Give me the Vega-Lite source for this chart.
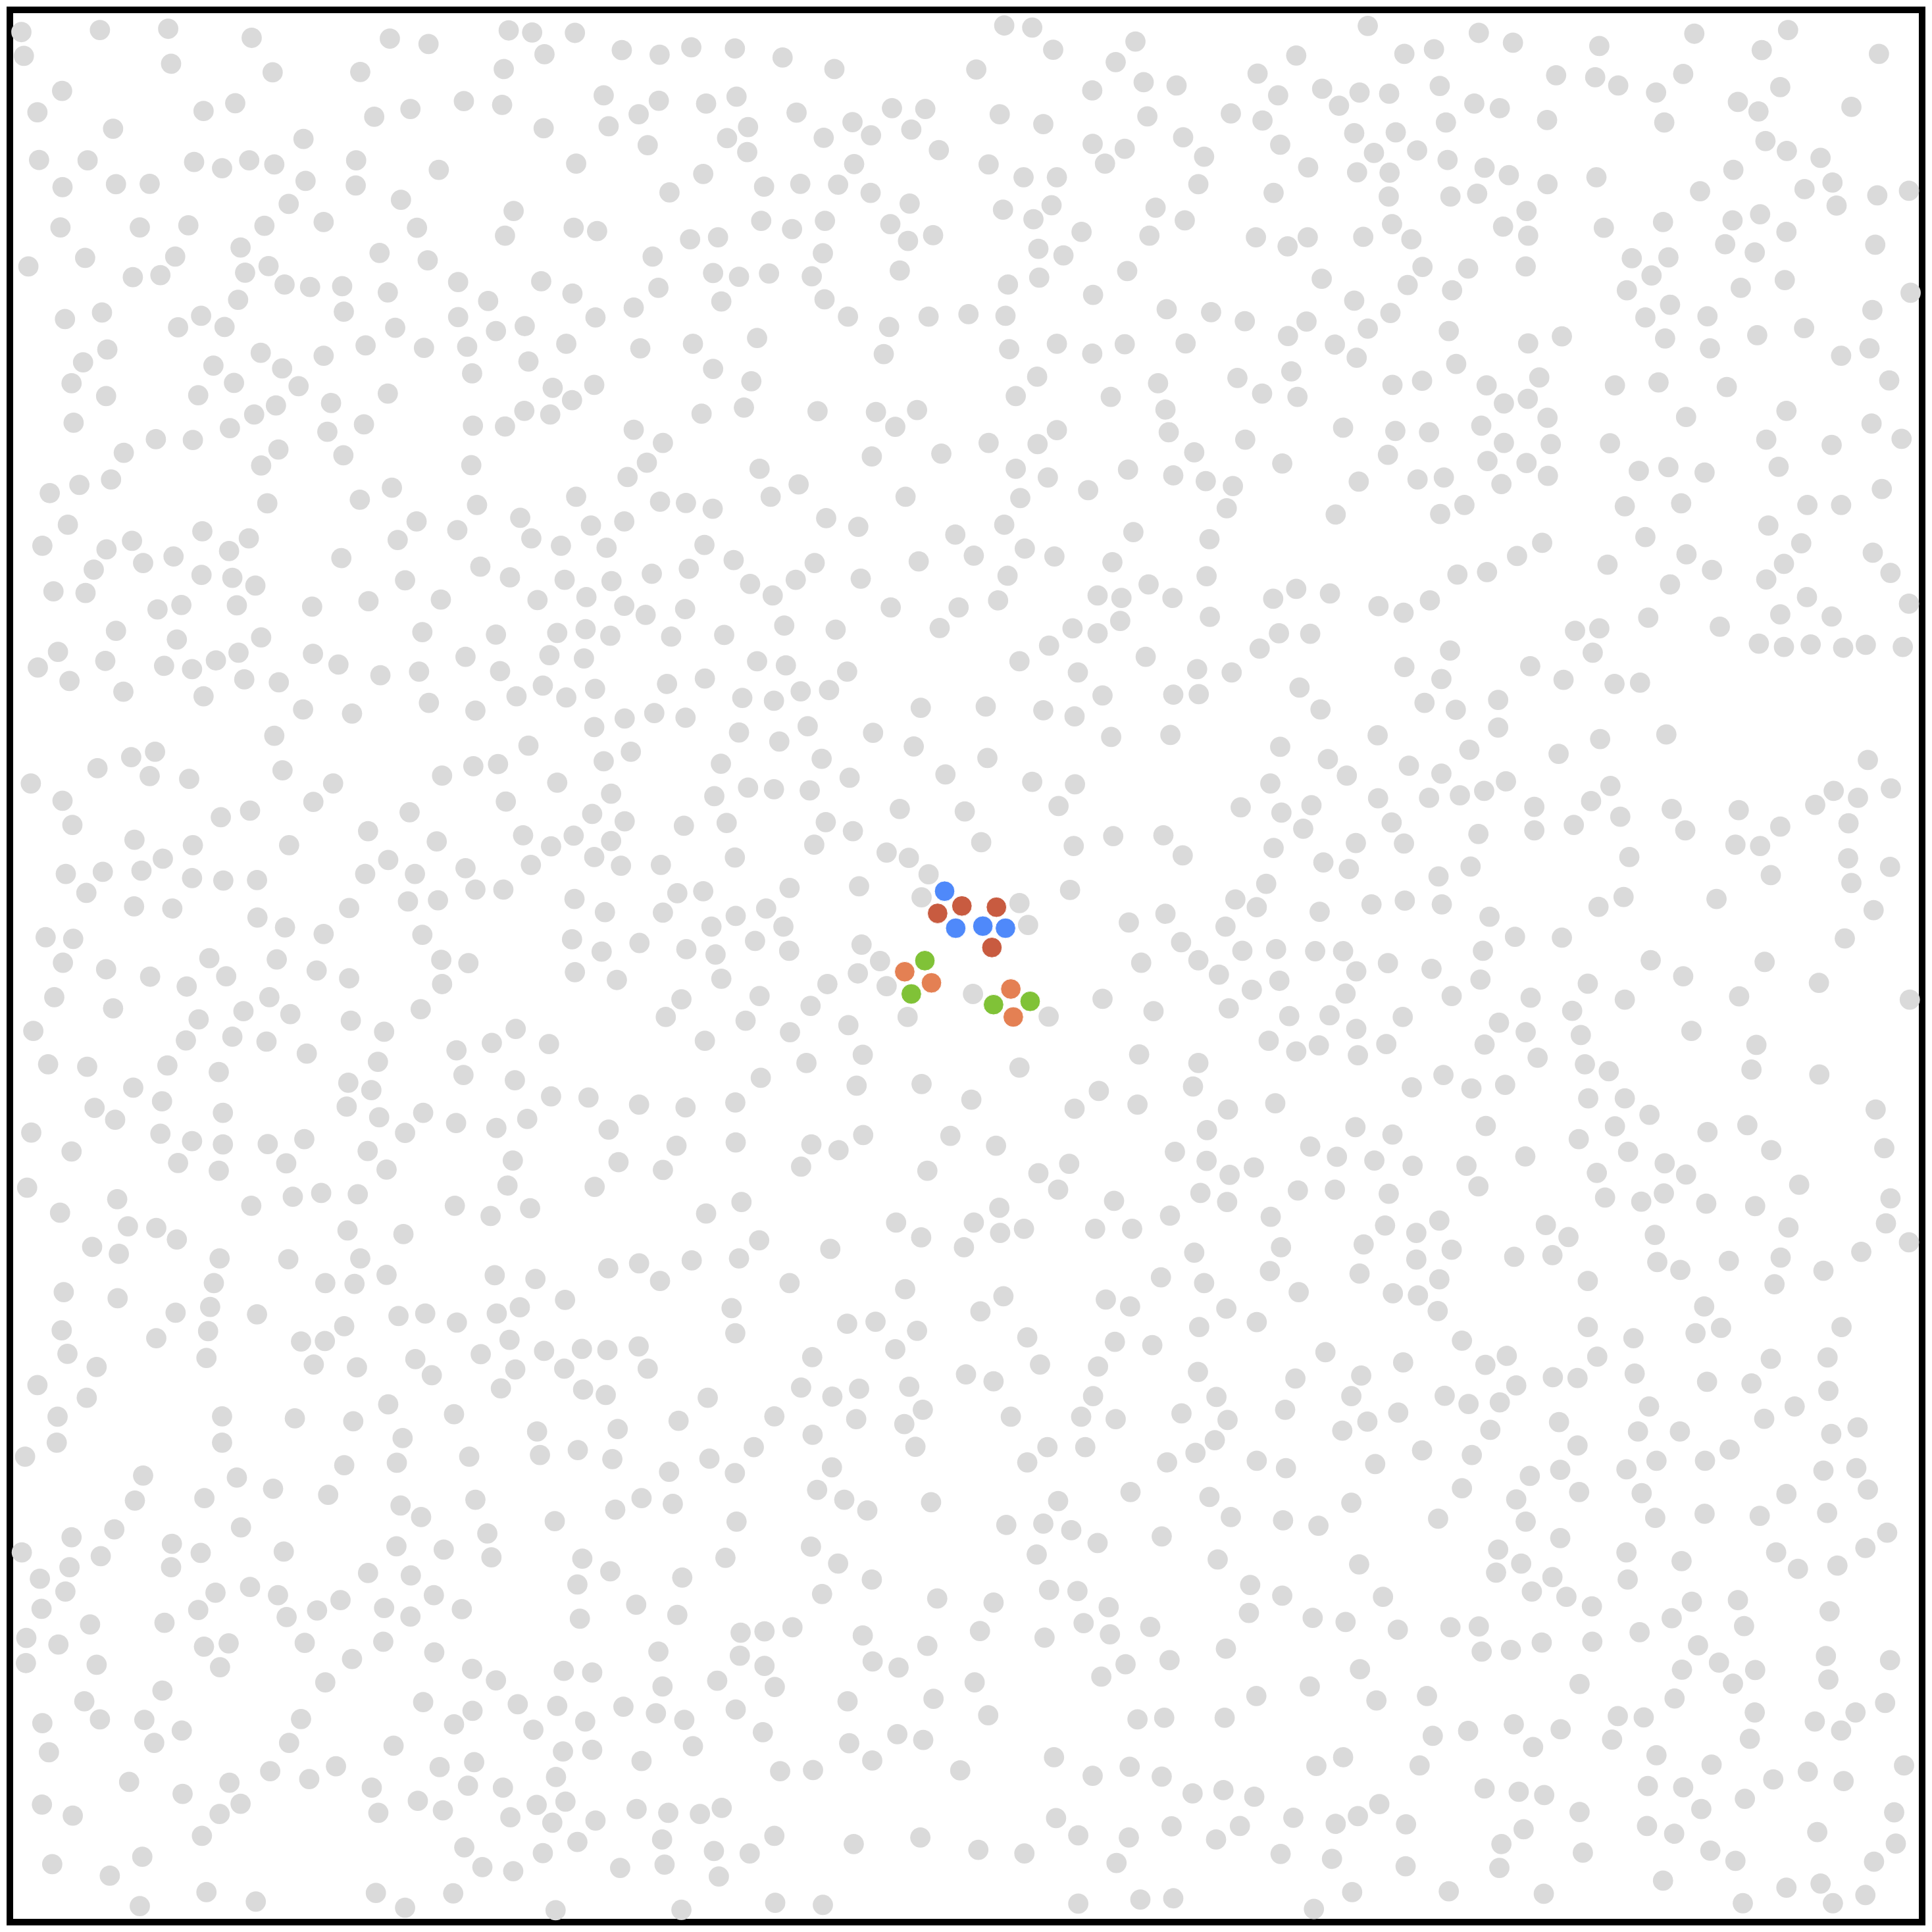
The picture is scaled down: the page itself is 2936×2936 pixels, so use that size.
{
"$schema": "https://vega.github.io/schema/vega-lite/v6.json",
"width": 2906, "height": 2906, "padding": 15, "autosize": "none",
"background": "white",
"view": {"stroke": "black", "strokeWidth": 10, "fill": "white"},
"datasets": {
"gray": [
{"x":52,"y":78},{"x":243,"y":73},{"x":409,"y":70},{"x":612,"y":92},{"x":948,"y":94},{"x":1042,"y":107},{"x":1237,"y":74},{"x":1294,"y":79},{"x":1398,"y":80},{"x":1512,"y":122},{"x":58,"y":136},{"x":416,"y":155},{"x":663,"y":176},{"x":876,"y":175},{"x":1225,"y":168},{"x":1324,"y":132},
{"x":151,"y":221},{"x":91,"y":273},{"x":275,"y":313},{"x":495,"y":270},{"x":572,"y":251},{"x":910,"y":284},{"x":998,"y":265},{"x":1128,"y":246},{"x":1221,"y":255},{"x":1468,"y":232},{"x":1480,"y":307},{"x":1553,"y":278},{"x":1322,"y":312},{"x":738,"y":338},
{"x":95,"y":389},{"x":213,"y":390},{"x":472,"y":394},{"x":540,"y":409},{"x":606,"y":390},{"x":667,"y":400},{"x":866,"y":390},{"x":152,"y":455},{"x":282,"y":448},{"x":364,"y":447},{"x":743,"y":440},{"x":865,"y":451},{"x":1067,"y":413},{"x":1401,"y":398},
{"x":702,"y":496},{"x":975,"y":486},{"x":1249,"y":513},{"x":147,"y":553},{"x":340,"y":553},{"x":458,"y":548},{"x":643,"y":549},{"x":787,"y":540},{"x":1014,"y":554},{"x":1228,"y":573},{"x":1395,"y":554},{"x":1452,"y":562},
{"x":69,"y":648},{"x":207,"y":627},{"x":426,"y":624},{"x":585,"y":602},{"x":596,"y":663},{"x":653,"y":647},{"x":923,"y":615},{"x":1040,"y":633},{"x":323,"y":674},{"x":390,"y":669},{"x":692,"y":692},{"x":754,"y":698},{"x":832,"y":696},{"x":943,"y":711},{"x":1114,"y":686},{"x":1316,"y":684},{"x":1392,"y":714},{"x":579,"y":729},
{"x":158,"y":776},{"x":248,"y":760},{"x":433,"y":796},{"x":489,"y":768},{"x":546,"y":795},{"x":836,"y":758},{"x":1114,"y":771},{"x":1187,"y":732},{"x":1206,"y":805},{"x":1276,"y":793},{"x":1448,"y":772},{"x":1541,"y":748},{"x":961,"y":797},{"x":202,"y":881},{"x":261,"y":850},{"x":634,"y":858},{"x":519,"y":889},{"x":686,"y":896},{"x":787,"y":865},{"x":889,"y":840},{"x":1031,"y":846},{"x":1136,"y":843},{"x":1285,"y":879},{"x":1377,"y":836},{"x":1557,"y":847},
{"x":174,"y":932},{"x":258,"y":963},{"x":482,"y":961},{"x":569,"y":931},{"x":726,"y":939},{"x":805,"y":980},{"x":943,"y":957},{"x":1148,"y":908},{"x":1344,"y":943},{"x":1391,"y":973},{"x":1445,"y":936},{"x":179,"y":1028},{"x":618,"y":1008},{"x":671,"y":986},{"x":559,"y":1041},{"x":796,"y":1050},{"x":885,"y":1032},{"x":1150,"y":1035},{"x":1228,"y":1037},{"x":1275,"y":999},{"x":1338,"y":1008},{"x":1541,"y":1045},
{"x":301,"y":1101},{"x":379,"y":1068},{"x":469,"y":1070},{"x":677,"y":1093},{"x":635,"y":1132},{"x":835,"y":1107},{"x":1146,"y":1131},{"x":1526,"y":1160},{"x":121,"y":1199},{"x":193,"y":1179},{"x":270,"y":1166},{"x":953,"y":1186},{"x":875,"y":1215},{"x":1401,"y":1208},{"x":650,"y":1224},{"x":1160,"y":1228},
{"x":165,"y":1276},{"x":103,"y":1327},{"x":259,"y":1336},{"x":321,"y":1315},{"x":492,"y":1292},{"x":557,"y":1340},{"x":605,"y":1309},{"x":1013,"y":1268},{"x":1112,"y":1289},{"x":967,"y":1313},{"x":1265,"y":1259},{"x":1292,"y":1309},{"x":1364,"y":1327},{"x":1437,"y":1278},{"x":1475,"y":1332},{"x":1518,"y":1268},{"x":830,"y":1357},
{"x":228,"y":1385},{"x":348,"y":1369},{"x":422,"y":1353},{"x":490,"y":1398},{"x":565,"y":1405},{"x":621,"y":1424},{"x":1168,"y":1378},{"x":1240,"y":1404},{"x":1373,"y":1410},{"x":1487,"y":1413},{"x":985,"y":1411},{"x":130,"y":1438},{"x":208,"y":1442},{"x":383,"y":1482},{"x":441,"y":1471},{"x":576,"y":1472},{"x":759,"y":1475},{"x":896,"y":1462},{"x":1072,"y":1458},{"x":1307,"y":1459},{"x":1426,"y":1452},{"x":1518,"y":1473},
{"x":282,"y":1534},{"x":1027,"y":1537},{"x":1206,"y":1543},{"x":1355,"y":1539},{"x":1424,"y":1530},{"x":1484,"y":1546},{"x":430,"y":1555},{"x":635,"y":1550},
{"x":2442,"y":62},{"x":2510,"y":67},{"x":2561,"y":121},{"x":2761,"y":101},{"x":2713,"y":151},{"x":1604,"y":133},{"x":1681,"y":115},{"x":1787,"y":118},{"x":1903,"y":140},{"x":2029,"y":168},{"x":2374,"y":169},{"x":3058,"y":179},{"x":1602,"y":245},{"x":1717,"y":252},{"x":1791,"y":235},{"x":1937,"y":274},{"x":2073,"y":297},{"x":2169,"y":263},{"x":2250,"y":265},{"x":2216,"y":315},{"x":2118,"y":329},{"x":2003,"y":335},{"x":1819,"y":309},{"x":1768,"y":336},{"x":1817,"y":370},{"x":2431,"y":278},{"x":2537,"y":302},{"x":2656,"y":220},{"x":2781,"y":200},{"x":2861,"y":208},{"x":2790,"y":283},{"x":2993,"y":276},{"x":3070,"y":293},{"x":3108,"y":232},{"x":2877,"y":334},{"x":2657,"y":350},{"x":2735,"y":362},{"x":2687,"y":398},{"x":2928,"y":381},{"x":3113,"y":352},{"x":1575,"y":353},{"x":2283,"y":365},{"x":2404,"y":400},{"x":2077,"y":399},
{"x":1710,"y":423},{"x":1628,"y":468},{"x":1858,"y":454},{"x":1946,"y":447},{"x":2038,"y":449},{"x":2117,"y":469},{"x":2212,"y":495},{"x":2489,"y":431},{"x":2570,"y":431},{"x":2914,"y":448},{"x":3097,"y":469},{"x":2439,"y":510},{"x":2513,"y":533},{"x":2557,"y":499},{"x":2810,"y":505},{"x":2881,"y":536},{"x":1851,"y":537},{"x":1926,"y":557},{"x":2006,"y":537},{"x":2165,"y":545},{"x":2208,"y":586},{"x":2269,"y":572},{"x":2630,"y":564},{"x":2795,"y":573},{"x":1678,"y":582},{"x":1746,"y":577},{"x":3054,"y":577},{"x":3131,"y":599},{"x":1587,"y":624},{"x":2525,"y":605},{"x":2586,"y":621},{"x":2001,"y":616},{"x":2188,"y":658},{"x":1734,"y":664},{"x":1797,"y":673},{"x":1870,"y":665},{"x":1974,"y":672},{"x":1601,"y":700},{"x":2451,"y":692},{"x":2527,"y":675},{"x":2741,"y":659},{"x":1754,"y":733},{"x":2005,"y":728},{"x":2658,"y":717},
{"x":2062,"y":770},{"x":2162,"y":795},{"x":2258,"y":770},{"x":2355,"y":764},{"x":2445,"y":768},{"x":2837,"y":752},{"x":2945,"y":759},{"x":3027,"y":781},{"x":3132,"y":817},{"x":1685,"y":836},{"x":1841,"y":822},{"x":2149,"y":861},{"x":2454,"y":849},{"x":2570,"y":836},{"x":2656,"y":860},{"x":2735,"y":837},{"x":2883,"y":835},{"x":1734,"y":897},{"x":1827,"y":927},{"x":2522,"y":916},{"x":2816,"y":932},{"x":3009,"y":919},{"x":3069,"y":957},{"x":2470,"y":963},{"x":2701,"y":965},
{"x":1706,"y":1006},{"x":1809,"y":991},{"x":1988,"y":1000},{"x":2130,"y":1002},{"x":2177,"y":1038},{"x":2230,"y":997},{"x":2834,"y":996},{"x":2842,"y":1051},{"x":2570,"y":1046},{"x":2523,"y":1080},{"x":2404,"y":1077},{"x":3028,"y":1069},{"x":1612,"y":1077},{"x":1573,"y":1125},{"x":1847,"y":1140},{"x":1942,"y":1178},{"x":1874,"y":1208},{"x":2120,"y":1110},{"x":2289,"y":1103},{"x":2470,"y":1140},{"x":2548,"y":1161},{"x":2743,"y":1142},{"x":2904,"y":1100},{"x":2853,"y":1156},{"x":2932,"y":1170},{"x":2998,"y":1182},{"x":2983,"y":1236},{"x":2646,"y":1192},{"x":2481,"y":1211},{"x":2202,"y":1208},{"x":3118,"y":1127},{"x":1605,"y":1220},{"x":1668,"y":1223},{"x":1733,"y":1237},
{"x":2009,"y":1260},{"x":2087,"y":1281},{"x":1713,"y":1325},{"x":1784,"y":1362},{"x":1675,"y":1383},{"x":1585,"y":1395},{"x":1824,"y":1420},{"x":1879,"y":1448},{"x":1935,"y":1410},{"x":1981,"y":1369},{"x":2093,"y":1407},{"x":2234,"y":1365},{"x":2323,"y":1300},{"x":2368,"y":1351},{"x":2442,"y":1276},{"x":2492,"y":1334},{"x":2564,"y":1353},{"x":2450,"y":1400},{"x":2705,"y":1367},{"x":2756,"y":1294},{"x":2941,"y":1311},{"x":2934,"y":1401},{"x":2793,"y":1421},{"x":2851,"y":1454},{"x":2669,"y":1448},{"x":2727,"y":1454},{"x":2724,"y":1510},{"x":2608,"y":1528},{"x":2669,"y":1540},{"x":2427,"y":1460},{"x":2331,"y":1477},{"x":2166,"y":1477},{"x":2285,"y":1527},{"x":2032,"y":1531},{"x":1907,"y":1521},{"x":1761,"y":1544},{"x":1666,"y":1481},{"x":1632,"y":1548},{"x":1570,"y":1495},{"x":2942,"y":1500},{"x":3096,"y":1456},{"x":3110,"y":1540},
{"x":3326,"y":63},{"x":3596,"y":80},{"x":3679,"y":104},{"x":3889,"y":112},{"x":4120,"y":82},{"x":4348,"y":73},{"x":4284,"y":122},{"x":4569,"y":131},{"x":3152,"y":135},{"x":3415,"y":131},{"x":3487,"y":120},{"x":3784,"y":183},{"x":3879,"y":188},{"x":3935,"y":208},{"x":4093,"y":180},{"x":4027,"y":225},{"x":4329,"y":212},{"x":3215,"y":216},{"x":3306,"y":225},{"x":3378,"y":228},{"x":3256,"y":257},{"x":3501,"y":209},{"x":3585,"y":252},{"x":3647,"y":263},{"x":3762,"y":292},{"x":4047,"y":298},{"x":4226,"y":248},{"x":4276,"y":271},{"x":4502,"y":260},{"x":3293,"y":324},{"x":3394,"y":322},{"x":3341,"y":372},{"x":3446,"y":366},{"x":3516,"y":298},{"x":3520,"y":389},{"x":4293,"y":343},{"x":4345,"y":367},{"x":4427,"y":384},
{"x":3181,"y":407},{"x":3300,"y":419},{"x":3379,"y":420},{"x":3377,"y":478},{"x":3610,"y":408},{"x":3669,"y":426},{"x":3763,"y":448},{"x":3882,"y":431},{"x":4215,"y":413},{"x":4388,"y":460},{"x":4456,"y":444},{"x":4466,"y":500},{"x":4565,"y":475},{"x":4642,"y":464},{"x":4134,"y":465},{"x":3527,"y":478},{"x":3592,"y":471},{"x":3712,"y":513},{"x":3655,"y":551},{"x":3716,"y":573},{"x":3900,"y":554},{"x":4044,"y":540},{"x":4213,"y":536},{"x":4280,"y":521},{"x":4344,"y":564},{"x":4195,"y":594},{"x":4267,"y":614},{"x":4560,"y":595},{"x":3180,"y":577},{"x":3315,"y":576},{"x":3385,"y":545},{"x":3432,"y":582},
{"x":3710,"y":648},{"x":3968,"y":628},{"x":4057,"y":626},{"x":4016,"y":670},{"x":3956,"y":706},{"x":4233,"y":700},{"x":4340,"y":681},{"x":4646,"y":712},{"x":3214,"y":678},{"x":3293,"y":731},{"x":3381,"y":761},{"x":3423,"y":693},{"x":3459,"y":649},{"x":3570,"y":653},{"x":3531,"y":706},{"x":4061,"y":741},{"x":4001,"y":772},{"x":4152,"y":769},{"x":4049,"y":823},{"x":4158,"y":847},{"x":4273,"y":815},{"x":4387,"y":798},{"x":4553,"y":754},{"x":4477,"y":865},{"x":4546,"y":847},{"x":3177,"y":782},{"x":3326,"y":799},{"x":3246,"y":838},{"x":3299,"y":870},{"x":3523,"y":805},{"x":3541,"y":885},{"x":3716,"y":835},{"x":3798,"y":818},
{"x":3140,"y":903},{"x":3155,"y":965},{"x":3386,"y":936},{"x":3458,"y":926},{"x":3615,"y":937},{"x":3743,"y":918},{"x":3657,"y":981},{"x":3715,"y":970},{"x":3927,"y":937},{"x":4033,"y":930},{"x":4199,"y":941},{"x":4594,"y":925},{"x":4344,"y":999},{"x":4100,"y":1014},{"x":4551,"y":1030},{"x":4624,"y":1067},{"x":3266,"y":1040},{"x":3393,"y":1048},{"x":3475,"y":1051},{"x":3602,"y":1035},{"x":3657,"y":1077},{"x":3763,"y":1016},{"x":3771,"y":1080},{"x":3915,"y":1078},{"x":4295,"y":1069},{"x":4454,"y":1082},{"x":3375,"y":1106},{"x":3617,"y":1121},{"x":3712,"y":1126},{"x":3764,"y":1157},{"x":3651,"y":1177},{"x":3304,"y":1171},{"x":3447,"y":1166},{"x":3511,"y":1161},{"x":3985,"y":1145},{"x":4057,"y":1136},{"x":4145,"y":1149},{"x":4325,"y":1135},{"x":4576,"y":1189},
{"x":3248,"y":1251},{"x":3502,"y":1250},{"x":3561,"y":1228},{"x":3951,"y":1231},{"x":4088,"y":1224},{"x":4395,"y":1228},{"x":4477,"y":1228},{"x":4300,"y":1278},{"x":4001,"y":1306},{"x":3750,"y":1320},{"x":3689,"y":1352},{"x":3616,"y":1391},{"x":3544,"y":1397},{"x":3909,"y":1373},{"x":4101,"y":1348},{"x":4163,"y":1386},{"x":4380,"y":1321},{"x":4338,"y":1371},{"x":4295,"y":1409},{"x":4554,"y":1344},{"x":4597,"y":1393},{"x":4061,"y":1421},{"x":3152,"y":1432},{"x":3234,"y":1443},{"x":3352,"y":1474},{"x":3413,"y":1490},{"x":3477,"y":1460},{"x":4008,"y":1502},{"x":4394,"y":1452},{"x":4329,"y":1494},{"x":4454,"y":1499},{"x":4642,"y":1468},{"x":3186,"y":1541},{"x":3830,"y":1534},{"x":3889,"y":1528},{"x":4182,"y":1524},
{"x":141,"y":1585},{"x":256,"y":1607},{"x":92,"y":1623},{"x":169,"y":1656},{"x":300,"y":1682},{"x":399,"y":1619},{"x":467,"y":1627},{"x":525,"y":1606},{"x":580,"y":1587},{"x":594,"y":1652},{"x":678,"y":1659},{"x":495,"y":1693},{"x":761,"y":1590},{"x":823,"y":1616},{"x":925,"y":1642},{"x":1019,"y":1633},{"x":1132,"y":1597},{"x":1216,"y":1632},{"x":1043,"y":1709},{"x":1156,"y":1728},{"x":856,"y":1735},{"x":737,"y":1725},{"x":1256,"y":1693},{"x":1320,"y":1667},{"x":1336,"y":1593},{"x":1420,"y":1601},{"x":1447,"y":1675},{"x":1377,"y":1696},{"x":1445,"y":1768},{"x":1519,"y":1747},
{"x":667,"y":1789},{"x":1285,"y":1813},{"x":1534,"y":1828},{"x":1468,"y":1851},{"x":237,"y":1868},{"x":319,"y":1841},{"x":377,"y":1828},{"x":364,"y":1887},{"x":460,"y":1894},{"x":687,"y":1873},{"x":810,"y":1905},{"x":1075,"y":1886},{"x":1151,"y":1863},{"x":1211,"y":1858},{"x":1355,"y":1903},{"x":75,"y":1905},{"x":152,"y":1947},{"x":176,"y":2006},{"x":537,"y":1987},{"x":608,"y":1971},{"x":762,"y":1950},{"x":996,"y":1975},{"x":1230,"y":1949},{"x":1486,"y":1930},{"x":1440,"y":1979},{"x":1519,"y":1997},
{"x":327,"y":2042},{"x":469,"y":2055},{"x":396,"y":2088},{"x":703,"y":2055},{"x":895,"y":2021},{"x":1062,"y":2046},{"x":1272,"y":2031},{"x":1340,"y":2058},{"x":1395,"y":2032},{"x":1486,"y":2045},{"x":1445,"y":2084},{"x":1510,"y":2105},{"x":1291,"y":2103},{"x":160,"y":2125},{"x":250,"y":2120},{"x":344,"y":2117},{"x":467,"y":2135},{"x":543,"y":2141},{"x":625,"y":2140},{"x":888,"y":2125},{"x":944,"y":2091},{"x":1009,"y":2125},{"x":1132,"y":2111},{"x":1156,"y":2163},{"x":1224,"y":2163},{"x":210,"y":2171},{"x":326,"y":2204},{"x":419,"y":2209},{"x":849,"y":2208},{"x":992,"y":2192},{"x":1065,"y":2189},{"x":1397,"y":2186},{"x":1471,"y":2218},{"x":626,"y":2231},{"x":693,"y":2255},{"x":787,"y":2271},{"x":1027,"y":2273},{"x":111,"y":2279},{"x":178,"y":2283},{"x":1391,"y":2284},{"x":1463,"y":2314},{"x":1555,"y":2293},
{"x":153,"y":2341},{"x":258,"y":2357},{"x":365,"y":2375},{"x":454,"y":2399},{"x":509,"y":2330},{"x":550,"y":2374},{"x":673,"y":2333},{"x":770,"y":2360},{"x":849,"y":2379},{"x":1073,"y":2334},{"x":1139,"y":2342},{"x":1075,"y":2393},{"x":1398,"y":2364},{"x":1500,"y":2383},{"x":132,"y":2425},{"x":275,"y":2452},{"x":483,"y":2479},{"x":592,"y":2459},{"x":655,"y":2425},{"x":706,"y":2466},{"x":1023,"y":2454},{"x":853,"y":2482},{"x":934,"y":2509},{"x":81,"y":2507},{"x":452,"y":2530},{"x":565,"y":2521},{"x":648,"y":2533},{"x":746,"y":2562},{"x":1110,"y":2554},{"x":1196,"y":2536},{"x":1254,"y":2502},{"x":1335,"y":2539},
{"x":117,"y":2588},{"x":212,"y":2594},{"x":407,"y":2591},{"x":532,"y":2607},{"x":919,"y":2582},{"x":847,"y":2633},{"x":903,"y":2651},{"x":1127,"y":2614},{"x":1252,"y":2627},{"x":324,"y":2645},{"x":394,"y":2678},{"x":230,"y":2694},{"x":280,"y":2723},{"x":542,"y":2706},{"x":843,"y":2691},{"x":922,"y":2717},{"x":1029,"y":2706},{"x":1109,"y":2731},{"x":1207,"y":2743},{"x":1282,"y":2721},{"x":1340,"y":2666},{"x":1431,"y":2669},{"x":1480,"y":2747},{"x":1554,"y":2686},{"x":76,"y":2754},{"x":174,"y":2800},{"x":390,"y":2757},{"x":467,"y":2775},{"x":542,"y":2783},{"x":651,"y":2782},{"x":740,"y":2770},{"x":894,"y":2799},{"x":985,"y":2755},
{"x":433,"y":2828},{"x":532,"y":2847},{"x":696,"y":2829},{"x":940,"y":2844},{"x":1247,"y":2822},{"x":1504,"y":2826},{"x":66,"y":2888},{"x":285,"y":2916},{"x":611,"y":2932},{"x":712,"y":2910},{"x":781,"y":2901},{"x":870,"y":2904},{"x":1106,"y":2932},{"x":1193,"y":2957},{"x":1234,"y":2883},{"x":1289,"y":2938},{"x":1446,"y":2886},{"x":146,"y":2949},{"x":311,"y":2982},{"x":380,"y":2986},{"x":430,"y":3014},{"x":845,"y":2992},{"x":981,"y":3001},{"x":224,"y":3032},{"x":289,"y":3049},{"x":534,"y":3060},{"x":701,"y":3062},{"x":876,"y":3060},{"x":940,"y":3100},{"x":1203,"y":3101},{"x":1302,"y":3110},{"x":1479,"y":3084},{"x":1554,"y":3072},{"x":520,"y":3120},{"x":791,"y":3120},{"x":862,"y":3122},
{"x":2551,"y":1570},{"x":3063,"y":1577},{"x":1841,"y":1608},{"x":1911,"y":1618},{"x":2060,"y":1633},{"x":1622,"y":1663},{"x":1714,"y":1650},{"x":1591,"y":1734},{"x":1667,"y":1745},{"x":1805,"y":1697},{"x":1882,"y":1704},{"x":1947,"y":1681},{"x":2016,"y":1678},{"x":1964,"y":1766},{"x":1797,"y":1781},{"x":1895,"y":1803},{"x":2479,"y":1608},{"x":2621,"y":1635},{"x":2786,"y":1597},{"x":2911,"y":1627},{"x":2995,"y":1635},{"x":2853,"y":1689},{"x":2915,"y":1688},{"x":2681,"y":1691},{"x":2537,"y":1727},{"x":2613,"y":1742},{"x":2397,"y":1718},{"x":2239,"y":1721},{"x":2123,"y":1782},{"x":2222,"y":1815},{"x":2702,"y":1792},{"x":2846,"y":1787},{"x":3113,"y":1816},
{"x":1753,"y":1857},{"x":1998,"y":1845},{"x":2401,"y":1843},{"x":1819,"y":1915},{"x":1882,"y":1919},{"x":1969,"y":1922},{"x":1737,"y":1936},{"x":2066,"y":1891},{"x":2299,"y":1883},{"x":2510,"y":1901},{"x":2614,"y":1907},{"x":3089,"y":1905},{"x":2574,"y":1960},{"x":3017,"y":1963},{"x":3116,"y":1976},{"x":1663,"y":2008},{"x":1767,"y":2001},{"x":2008,"y":1999},{"x":2074,"y":2021},{"x":1980,"y":2054},{"x":2188,"y":1967},{"x":2346,"y":1973},{"x":2386,"y":2048},{"x":2707,"y":2033},{"x":2829,"y":2031},{"x":2611,"y":2057},{"x":2876,"y":2080},{"x":3097,"y":2062},{"x":1787,"y":2085},{"x":1607,"y":2103},{"x":2156,"y":2073},{"x":2210,"y":2086},{"x":2258,"y":2126},{"x":3079,"y":2149},
{"x":1647,"y":2172},{"x":1710,"y":2167},{"x":1920,"y":2159},{"x":2089,"y":2155},{"x":2241,"y":2182},{"x":2602,"y":2164},{"x":3004,"y":2187},{"x":3056,"y":2206},{"x":1612,"y":2219},{"x":1730,"y":2253},{"x":1789,"y":2227},{"x":1863,"y":2209},{"x":1905,"y":2253},{"x":2745,"y":2243},{"x":2834,"y":2222},{"x":2980,"y":2253},{"x":2479,"y":2196},{"x":2500,"y":2249},{"x":1836,"y":2288},{"x":1919,"y":2312},{"x":1669,"y":2308},{"x":1740,"y":2321},{"x":2095,"y":2297},{"x":2140,"y":2337},{"x":2086,"y":2367},{"x":2156,"y":2398},{"x":2207,"y":2473},{"x":2366,"y":2417},{"x":2550,"y":2472},{"x":2681,"y":2429},{"x":2805,"y":2459},{"x":2775,"y":2341},{"x":2872,"y":2291},{"x":2914,"y":2335},{"x":2964,"y":2370},{"x":3021,"y":2312},{"x":3103,"y":2308},{"x":3111,"y":2385},{"x":3044,"y":2407},{"x":2988,"y":2452},
{"x":1754,"y":2380},{"x":1657,"y":2430},{"x":1847,"y":2422},{"x":2012,"y":2393},{"x":1619,"y":2473},{"x":1971,"y":2446},{"x":1813,"y":2482},{"x":1921,"y":2510},{"x":2063,"y":2493},{"x":1714,"y":2531},{"x":2098,"y":2565},{"x":1961,"y":2585},{"x":1850,"y":2621},{"x":2083,"y":2640},{"x":2241,"y":2636},{"x":2362,"y":2674},{"x":2479,"y":2596},{"x":2770,"y":2564},{"x":2914,"y":2585},{"x":2901,"y":2642},{"x":3085,"y":2531},{"x":1667,"y":2693},{"x":1788,"y":2681},{"x":2672,"y":2653},{"x":2613,"y":2696},{"x":2766,"y":2686},{"x":2986,"y":2698},{"x":3101,"y":2683},
{"x":1645,"y":2786},{"x":1789,"y":2778},{"x":1973,"y":2783},{"x":2039,"y":2797},{"x":2099,"y":2760},{"x":2311,"y":2762},{"x":2422,"y":2786},{"x":1612,"y":2845},{"x":1948,"y":2837},{"x":2255,"y":2847},{"x":2525,"y":2853},{"x":2600,"y":2830},{"x":2573,"y":2893},{"x":2857,"y":2801},{"x":2935,"y":2748},{"x":2934,"y":2823},{"x":2990,"y":2857},{"x":3049,"y":2839},{"x":1803,"y":2923},{"x":1717,"y":2951},{"x":2179,"y":2973},{"x":2240,"y":3009},{"x":2368,"y":2973},{"x":2430,"y":2937},{"x":2432,"y":2998},{"x":2490,"y":2988},{"x":2663,"y":2988},{"x":2709,"y":2920},{"x":2753,"y":2988},{"x":2845,"y":2956},{"x":2919,"y":2901},{"x":2984,"y":2923},{"x":3090,"y":2959},{"x":1846,"y":3016},{"x":2019,"y":3037},{"x":2344,"y":3033},{"x":1682,"y":3065},{"x":1797,"y":3060},{"x":2904,"y":3046},{"x":3115,"y":3033},{"x":3088,"y":3091},{"x":1605,"y":3115},{"x":1920,"y":3120},{"x":2823,"y":3106},{"x":2928,"y":3120},
{"x":3526,"y":1582},{"x":3873,"y":1587},{"x":4277,"y":1565},{"x":4338,"y":1573},{"x":4403,"y":1567},{"x":4482,"y":1575},{"x":4537,"y":1568},{"x":4627,"y":1573},{"x":3415,"y":1622},{"x":3505,"y":1651},{"x":3721,"y":1620},{"x":3802,"y":1653},{"x":3926,"y":1663},{"x":3988,"y":1660},{"x":3160,"y":1672},{"x":3211,"y":1725},{"x":3464,"y":1709},{"x":3540,"y":1726},{"x":3643,"y":1702},{"x":3643,"y":1769},{"x":3350,"y":1788},{"x":3891,"y":1797},{"x":4052,"y":1786},{"x":3229,"y":1846},{"x":3275,"y":1886},{"x":3426,"y":1862},{"x":3505,"y":1881},{"x":3573,"y":1823},{"x":3662,"y":1900},{"x":3790,"y":1833},{"x":4542,"y":1848},{"x":4459,"y":1923},{"x":4518,"y":1940},{"x":4598,"y":1917},{"x":4414,"y":1957},{"x":4495,"y":2002},
{"x":3189,"y":1958},{"x":3169,"y":2015},{"x":3351,"y":1941},{"x":3384,"y":2000},{"x":3475,"y":1940},{"x":3550,"y":1934},{"x":3609,"y":1923},{"x":3731,"y":1962},{"x":3731,"y":2019},{"x":3869,"y":1948},{"x":3916,"y":1911},{"x":3940,"y":1986},{"x":3827,"y":2006},{"x":4065,"y":1967},{"x":4098,"y":2019},{"x":4228,"y":1970},{"x":4329,"y":2010},{"x":4220,"y":2054},{"x":4280,"y":2057},{"x":4306,"y":2128},{"x":4494,"y":2087},{"x":4502,"y":2147},{"x":4596,"y":2108},{"x":3297,"y":2050},{"x":3414,"y":2051},{"x":3595,"y":2028},{"x":3218,"y":2097},{"x":3280,"y":2113},{"x":3576,"y":2107},{"x":3498,"y":2131},{"x":3962,"y":2084},{"x":4174,"y":2186},{"x":4556,"y":2213},
{"x":3209,"y":2217},{"x":3335,"y":2199},{"x":3416,"y":2190},{"x":3506,"y":2199},{"x":3622,"y":2229},{"x":3887,"y":2205},{"x":3948,"y":2181},{"x":3684,"y":2278},{"x":3798,"y":2280},{"x":4486,"y":2282},{"x":3198,"y":2313},{"x":3266,"y":2313},{"x":3375,"y":2342},{"x":3298,"y":2362},{"x":3481,"y":2356},{"x":3606,"y":2312},{"x":3600,"y":2382},{"x":4014,"y":2335},{"x":4093,"y":2374},{"x":4291,"y":2339},{"x":4423,"y":2390},{"x":3861,"y":2392},{"x":3272,"y":2416},{"x":3530,"y":2422},{"x":3722,"y":2426},{"x":3951,"y":2431},{"x":4229,"y":2423},{"x":4644,"y":2431},
{"x":3135,"y":2471},{"x":3233,"y":2469},{"x":3298,"y":2502},{"x":3411,"y":2473},{"x":3645,"y":2487},{"x":3710,"y":2510},{"x":3823,"y":2458},{"x":3844,"y":2517},{"x":4113,"y":2507},{"x":3152,"y":2557},{"x":3207,"y":2542},{"x":3302,"y":2566},{"x":3371,"y":2539},{"x":3610,"y":2540},{"x":3739,"y":2572},{"x":4271,"y":2541},{"x":4259,"y":2601},{"x":3854,"y":2588},{"x":3912,"y":2605},{"x":3433,"y":2644},{"x":3510,"y":2614},{"x":3578,"y":2647},{"x":3660,"y":2638},{"x":4424,"y":2613},{"x":3862,"y":2671},{"x":3951,"y":2671},{"x":4011,"y":2711},{"x":4561,"y":2698},
{"x":3296,"y":2741},{"x":3386,"y":2759},{"x":3613,"y":2738},{"x":3839,"y":2770},{"x":3927,"y":2739},{"x":4152,"y":2753},{"x":4249,"y":2736},{"x":4307,"y":2797},{"x":4582,"y":2792},{"x":3186,"y":2788},{"x":3251,"y":2813},{"x":3342,"y":2822},{"x":3435,"y":2835},{"x":3566,"y":2835},{"x":3709,"y":2812},{"x":3959,"y":2801},{"x":4048,"y":2829},{"x":4100,"y":2856},{"x":3883,"y":2852},{"x":4375,"y":2881},{"x":3156,"y":2895},{"x":3246,"y":2893},{"x":3377,"y":2903},{"x":3595,"y":2885},{"x":3903,"y":2912},{"x":3991,"y":2922},{"x":4046,"y":2902},{"x":4149,"y":2927},{"x":4268,"y":2933},{"x":4597,"y":2914},
{"x":3368,"y":2980},{"x":3500,"y":2968},{"x":3444,"y":2998},{"x":3759,"y":2979},{"x":3814,"y":3008},{"x":4024,"y":3003},{"x":4349,"y":2985},{"x":4586,"y":2975},{"x":3316,"y":3026},{"x":3530,"y":3039},{"x":3444,"y":3063},{"x":3682,"y":3056},{"x":3775,"y":3052},{"x":4030,"y":3069},{"x":4086,"y":3088},{"x":4204,"y":3066},{"x":4330,"y":3058},{"x":4434,"y":3090},{"x":4526,"y":3044},{"x":4642,"y":3021},{"x":3306,"y":3097},{"x":3500,"y":3111},{"x":3861,"y":3115},{"x":4315,"y":3123},
{"x":155,"y":3142},{"x":286,"y":3157},{"x":1374,"y":3161},{"x":427,"y":3192},{"x":511,"y":3178},{"x":625,"y":3196},{"x":150,"y":3235},{"x":380,"y":3254},{"x":506,"y":3237},{"x":164,"y":3292},{"x":235,"y":3324},{"x":502,"y":3302},{"x":732,"y":3262},{"x":790,"y":3261},{"x":837,"y":3225},{"x":969,"y":3200},{"x":1034,"y":3194},{"x":1111,"y":3216},{"x":1208,"y":3194},{"x":1264,"y":3179},{"x":1239,"y":3258},{"x":1323,"y":3285},{"x":1415,"y":3280},{"x":1477,"y":3283},{"x":1553,"y":3274},{"x":763,"y":3318},{"x":868,"y":3325},{"x":1010,"y":3305},{"x":1050,"y":3344},{"x":1169,"y":3293},{"x":1253,"y":3330},{"x":1372,"y":3328},{"x":1218,"y":3376},{"x":1418,"y":3379},{"x":1473,"y":3392},{"x":91,"y":3368},{"x":211,"y":3399},
{"x":140,"y":3445},{"x":138,"y":3508},{"x":61,"y":3542},{"x":540,"y":3444},{"x":540,"y":3508},{"x":717,"y":3449},{"x":859,"y":3456},{"x":944,"y":3415},{"x":1104,"y":3439},{"x":979,"y":3497},{"x":965,"y":3557},{"x":837,"y":3563},{"x":1141,"y":3542},{"x":1306,"y":3481},{"x":1313,"y":3538},{"x":1405,"y":3526},{"x":1489,"y":3548},{"x":1502,"y":3475},{"x":348,"y":3588},{"x":328,"y":3649},{"x":497,"y":3643},{"x":576,"y":3593},{"x":664,"y":3620},{"x":798,"y":3635},{"x":974,"y":3661},{"x":1024,"y":3689},{"x":1156,"y":3647},{"x":1349,"y":3699},{"x":1496,"y":3671},{"x":1560,"y":3643},
{"x":278,"y":3719},{"x":174,"y":3738},{"x":586,"y":3714},{"x":53,"y":3775},{"x":245,"y":3784},{"x":418,"y":3754},{"x":416,"y":3811},{"x":488,"y":3776},{"x":690,"y":3773},{"x":964,"y":3760},{"x":1079,"y":3768},{"x":1185,"y":3729},{"x":1195,"y":3787},{"x":1416,"y":3790},{"x":1484,"y":3821},{"x":169,"y":3811},{"x":97,"y":3839},{"x":159,"y":3870},{"x":101,"y":3912},{"x":895,"y":3825},{"x":999,"y":3831},{"x":1055,"y":3879},{"x":1123,"y":3913},{"x":1404,"y":3853},{"x":1547,"y":3902},{"x":524,"y":3873},{"x":608,"y":3859},{"x":676,"y":3879},{"x":482,"y":3915},{"x":697,"y":3932},{"x":771,"y":3916},{"x":828,"y":3891},{"x":934,"y":3910},{"x":998,"y":3931},{"x":1410,"y":3936},
{"x":219,"y":3950},{"x":400,"y":3946},{"x":64,"y":3983},{"x":142,"y":3999},{"x":63,"y":4044},{"x":235,"y":4048},{"x":496,"y":4004},{"x":556,"y":3996},{"x":535,"y":4054},{"x":741,"y":3995},{"x":932,"y":3992},{"x":856,"y":4034},{"x":1056,"y":4018},{"x":1148,"y":4058},{"x":1206,"y":4086},{"x":1371,"y":4063},{"x":1440,"y":4067},{"x":791,"y":4091},{"x":395,"y":4111},{"x":205,"y":4137},{"x":103,"y":4190},{"x":243,"y":4181},{"x":351,"y":4182},{"x":442,"y":4208},{"x":375,"y":4238},{"x":119,"y":4261},{"x":732,"y":4180},{"x":703,"y":4238},{"x":1029,"y":4139},{"x":957,"y":4245},{"x":1104,"y":4193},{"x":1149,"y":4160},{"x":1259,"y":4144},{"x":1297,"y":4206},{"x":1355,"y":4148},{"x":1423,"y":4186},{"x":1516,"y":4150},{"x":1369,"y":4259},{"x":1440,"y":4255},{"x":1560,"y":4282},
{"x":314,"y":4333},{"x":444,"y":4362},{"x":558,"y":4335},{"x":585,"y":4386},{"x":534,"y":4411},{"x":657,"y":4307},{"x":752,"y":4326},{"x":817,"y":4295},{"x":904,"y":4347},{"x":920,"y":4408},{"x":1016,"y":4379},{"x":1069,"y":4297},{"x":1077,"y":4402},{"x":1138,"y":4342},{"x":1153,"y":4285},{"x":1223,"y":4347},{"x":1241,"y":4419},{"x":1305,"y":4389},{"x":1343,"y":4432},{"x":1375,"y":4381},{"x":1352,"y":4321},{"x":1448,"y":4427},{"x":1548,"y":4399},{"x":102,"y":4388},{"x":177,"y":4415},{"x":491,"y":4464},{"x":1129,"y":4492},{"x":1173,"y":4540},{"x":1248,"y":4550},{"x":1320,"y":4506},{"x":1404,"y":4479},{"x":1508,"y":4542},{"x":127,"y":4533},{"x":267,"y":4561},{"x":346,"y":4515},{"x":340,"y":4635},{"x":502,"y":4601},{"x":622,"y":4624},{"x":914,"y":4603},{"x":985,"y":4639},{"x":1102,"y":4604},{"x":1351,"y":4645},
{"x":2201,"y":3135},{"x":2440,"y":3152},{"x":2689,"y":3160},{"x":2748,"y":3177},{"x":1779,"y":3181},{"x":1788,"y":3242},{"x":2060,"y":3219},{"x":2129,"y":3214},{"x":2230,"y":3236},{"x":2177,"y":3281},{"x":2384,"y":3189},{"x":2498,"y":3252},{"x":2529,"y":3318},{"x":2711,"y":3263},{"x":2802,"y":3271},{"x":2916,"y":3227},{"x":2982,"y":3182},{"x":3056,"y":3215},{"x":1575,"y":3328},{"x":1975,"y":3300},{"x":1948,"y":3374},{"x":2024,"y":3396},{"x":2089,"y":3377},{"x":2211,"y":3372},{"x":2244,"y":3428},{"x":2199,"y":3463},{"x":2226,"y":3518},{"x":2349,"y":3342},{"x":2416,"y":3359},{"x":2458,"y":3445},{"x":2670,"y":3323},{"x":2658,"y":3395},{"x":2629,"y":3445},{"x":2713,"y":3451},{"x":2639,"y":3519},{"x":2547,"y":3519},{"x":2498,"y":3556},{"x":2913,"y":3336},{"x":2958,"y":3397},{"x":2985,"y":3453},{"x":2954,"y":3502},{"x":2907,"y":3533},{"x":2873,"y":3437},{"x":2838,"y":3556},{"x":3056,"y":3552},{"x":3125,"y":3428},{"x":3127,"y":3570},
{"x":1721,"y":3399},{"x":1650,"y":3455},{"x":1883,"y":3444},{"x":1976,"y":3489},{"x":2082,"y":3451},{"x":1833,"y":3519},{"x":1725,"y":3547},{"x":1787,"y":3582},{"x":1627,"y":3579},{"x":2023,"y":3568},{"x":1987,"y":3623},{"x":2053,"y":3647},{"x":2109,"y":3673},{"x":2264,"y":3653},{"x":2573,"y":3650},{"x":2749,"y":3628},{"x":2941,"y":3640},{"x":2993,"y":3689},{"x":3120,"y":3697},{"x":1636,"y":3657},{"x":1791,"y":3700},{"x":2447,"y":3708},{"x":2537,"y":3705},{"x":2605,"y":3721},{"x":2669,"y":3752},{"x":2521,"y":3780},{"x":2825,"y":3736},{"x":2961,"y":3792},{"x":1972,"y":3761},{"x":2038,"y":3802},{"x":1764,"y":3788},{"x":1659,"y":3836},{"x":2120,"y":3841},{"x":2279,"y":3887},{"x":2416,"y":3897},{"x":2551,"y":3866},{"x":2620,"y":3869},{"x":2696,"y":3908},{"x":3040,"y":3854},{"x":3037,"y":3922},{"x":3118,"y":3880},{"x":1999,"y":3876},
{"x":1647,"y":3927},{"x":1801,"y":3970},{"x":1859,"y":3967},{"x":1927,"y":3957},{"x":2098,"y":3977},{"x":2255,"y":4002},{"x":2383,"y":3966},{"x":2540,"y":3982},{"x":2635,"y":3947},{"x":2699,"y":3974},{"x":2797,"y":3956},{"x":1601,"y":4016},{"x":1799,"y":4026},{"x":1859,"y":4051},{"x":2122,"y":4040},{"x":2185,"y":4055},{"x":2737,"y":4047},{"x":2678,"y":4077},{"x":2844,"y":4037},{"x":2981,"y":4009},{"x":1744,"y":4087},{"x":1884,"y":4102},{"x":2370,"y":4091},{"x":1611,"y":4101},{"x":1595,"y":4166},{"x":1664,"y":4182},{"x":1789,"y":4157},{"x":2061,"y":4137},{"x":2270,"y":4131},{"x":2403,"y":4171},{"x":2766,"y":4181},{"x":2831,"y":4177},{"x":2978,"y":4177},{"x":3055,"y":4124},
{"x":1855,"y":4212},{"x":1685,"y":4246},{"x":2065,"y":4239},{"x":2182,"y":4217},{"x":2245,"y":4231},{"x":2121,"y":4281},{"x":1897,"y":4307},{"x":1977,"y":4304},{"x":2335,"y":4305},{"x":2563,"y":4273},{"x":2657,"y":4318},{"x":2747,"y":4296},{"x":2825,"y":4320},{"x":2900,"y":4361},{"x":2975,"y":4353},{"x":3050,"y":4369},{"x":1625,"y":4408},{"x":1702,"y":4411},{"x":1755,"y":4396},{"x":2568,"y":4421},{"x":2622,"y":4463},{"x":2745,"y":4468},{"x":2849,"y":4441},{"x":2957,"y":4473},{"x":3015,"y":4440},{"x":1610,"y":4473},{"x":1736,"y":4501},{"x":1823,"y":4507},{"x":1883,"y":4464},{"x":2076,"y":4484},{"x":2238,"y":4468},{"x":2379,"y":4498},{"x":2491,"y":4507},{"x":2715,"y":4530},{"x":3114,"y":4508},{"x":1616,"y":4534},{"x":1748,"y":4563},{"x":1657,"y":4644},{"x":1885,"y":4627},{"x":2001,"y":4632},{"x":2622,"y":4629},{"x":2773,"y":4619},{"x":2853,"y":4616},
{"x":3158,"y":3142},{"x":3387,"y":3145},{"x":3448,"y":3150},{"x":3496,"y":3188},{"x":3555,"y":3260},{"x":3223,"y":3288},{"x":3412,"y":3313},{"x":3310,"y":3345},{"x":3150,"y":3352},{"x":3286,"y":3395},{"x":3264,"y":3479},{"x":3325,"y":3457},{"x":3400,"y":3435},{"x":3513,"y":3394},{"x":3571,"y":3414},{"x":3612,"y":3319},{"x":3664,"y":3297},{"x":3687,"y":3369},{"x":3647,"y":3410},{"x":3624,"y":3477},{"x":3776,"y":3349},{"x":3836,"y":3351},{"x":3884,"y":3299},{"x":3861,"y":3227},{"x":3972,"y":3254},{"x":3975,"y":3340},{"x":4010,"y":3420},{"x":3983,"y":3481},{"x":4085,"y":3481},{"x":4144,"y":3177},{"x":4123,"y":3242},{"x":4185,"y":3229},{"x":4151,"y":3360},{"x":4259,"y":3364},{"x":4306,"y":3304},{"x":4290,"y":3450},{"x":4364,"y":3420},{"x":4444,"y":3301},{"x":4446,"y":3382},{"x":4478,"y":3227},{"x":4453,"y":3487},{"x":4517,"y":3471},
{"x":4434,"y":3576},{"x":4514,"y":3570},{"x":4542,"y":3622},{"x":4443,"y":3679},{"x":4344,"y":3633},{"x":4279,"y":3686},{"x":4206,"y":3525},{"x":4146,"y":3552},{"x":4028,"y":3552},{"x":3955,"y":3573},{"x":3992,"y":3631},{"x":4025,"y":3691},{"x":4145,"y":3681},{"x":3840,"y":3628},{"x":3836,"y":3515},{"x":3794,"y":3574},{"x":3791,"y":3458},{"x":3720,"y":3589},{"x":3687,"y":3646},{"x":3710,"y":3700},{"x":3794,"y":3740},{"x":3579,"y":3538},{"x":3555,"y":3619},{"x":3458,"y":3527},{"x":3344,"y":3560},{"x":3286,"y":3654},{"x":3206,"y":3710},{"x":3497,"y":3693},
{"x":3643,"y":3768},{"x":3638,"y":3824},{"x":3699,"y":3802},{"x":3775,"y":3835},{"x":3725,"y":3870},{"x":3809,"y":3883},{"x":3871,"y":3906},{"x":3955,"y":3775},{"x":3958,"y":3841},{"x":4089,"y":3796},{"x":4319,"y":3775},{"x":4372,"y":3815},{"x":4468,"y":3807},{"x":4536,"y":3764},{"x":4589,"y":3727},{"x":3305,"y":3804},{"x":3363,"y":3883},{"x":3192,"y":3934},{"x":3272,"y":3944},{"x":3399,"y":3963},{"x":3527,"y":3957},{"x":3596,"y":3955},{"x":3603,"y":4016},{"x":3674,"y":4012},{"x":3749,"y":3994},{"x":3872,"y":3992},{"x":3987,"y":3969},{"x":4065,"y":3935},{"x":4114,"y":3895},{"x":4226,"y":3891},{"x":4241,"y":3954},{"x":4449,"y":3918},{"x":4129,"y":4001},{"x":4180,"y":4043},{"x":4268,"y":4061},{"x":4214,"y":4094},{"x":4090,"y":4060},{"x":4072,"y":4130},{"x":4440,"y":4027},{"x":4446,"y":4084},{"x":4596,"y":4037},
{"x":3307,"y":4059},{"x":3185,"y":4101},{"x":3347,"y":4135},{"x":3470,"y":4124},{"x":3841,"y":4095},{"x":4267,"y":4164},{"x":4413,"y":4186},{"x":4477,"y":4208},{"x":4512,"y":4164},{"x":4584,"y":4141},{"x":3934,"y":4173},{"x":3997,"y":4176},{"x":3920,"y":4230},{"x":3681,"y":4193},{"x":3795,"y":4205},{"x":3570,"y":4209},{"x":3484,"y":4221},{"x":3728,"y":4248},{"x":3201,"y":4294},{"x":3266,"y":4273},{"x":3452,"y":4293},{"x":4028,"y":4268},{"x":4162,"y":4291},{"x":4255,"y":4228},{"x":4312,"y":4327},{"x":4396,"y":4308},{"x":4483,"y":4331},{"x":4630,"y":4293},
{"x":3610,"y":4349},{"x":3693,"y":4357},{"x":3755,"y":4365},{"x":4007,"y":4343},{"x":4093,"y":4346},{"x":4137,"y":4399},{"x":4243,"y":4374},{"x":3145,"y":4420},{"x":3248,"y":4435},{"x":3302,"y":4416},{"x":3354,"y":4387},{"x":3419,"y":4436},{"x":3841,"y":4406},{"x":3705,"y":4448},{"x":3651,"y":4484},{"x":4005,"y":4440},{"x":4071,"y":4459},{"x":4419,"y":4455},{"x":4606,"y":4407},{"x":4610,"y":4483},{"x":3239,"y":4520},{"x":3418,"y":4538},{"x":3646,"y":4542},{"x":3849,"y":4505},{"x":4159,"y":4500},{"x":4220,"y":4525},{"x":4557,"y":4527},{"x":3288,"y":4601},{"x":3523,"y":4599},{"x":3754,"y":4605},{"x":4044,"y":4573},{"x":4238,"y":4628},{"x":4344,"y":4590},{"x":4427,"y":4580},{"x":4457,"y":4628},{"x":4536,"y":4608},{"x":3195,"y":4642}
],
"colored": [
{"x":2297,"y":2167,"group":"blue"},{"x":2324,"y":2257,"group":"blue"},{"x":2390,"y":2252,"group":"blue"},{"x":2445,"y":2257,"group":"blue"},
{"x":2339,"y":2203,"group":"red"},{"x":2280,"y":2221,"group":"red"},{"x":2423,"y":2206,"group":"red"},{"x":2412,"y":2304,"group":"red"},
{"x":2200,"y":2363,"group":"orange"},{"x":2265,"y":2390,"group":"orange"},{"x":2458,"y":2405,"group":"orange"},{"x":2464,"y":2473,"group":"orange"},
{"x":2249,"y":2336,"group":"green"},{"x":2216,"y":2417,"group":"green"},{"x":2416,"y":2443,"group":"green"},{"x":2505,"y":2435,"group":"green"}
]
},
"layer": [
{"data": {"name": "gray"},
 "mark": {"type": "circle", "size": 946, "color": "#dadada", "opacity": 1, "clip": true},
 "encoding": {
  "x": {"field": "x", "type": "quantitative", "scale": {"domain": [24, 4674], "nice": false, "zero": false}, "axis": null},
  "y": {"field": "y", "type": "quantitative", "scale": {"domain": [24, 4674], "nice": false, "zero": false, "reverse": true}, "axis": null}
 }},
{"data": {"name": "colored"},
 "mark": {"type": "circle", "size": 946, "opacity": 1, "clip": true, "stroke": "white", "strokeWidth": 1},
 "encoding": {
  "x": {"field": "x", "type": "quantitative", "scale": {"domain": [24, 4674], "nice": false, "zero": false}, "axis": null},
  "y": {"field": "y", "type": "quantitative", "scale": {"domain": [24, 4674], "nice": false, "zero": false, "reverse": true}, "axis": null},
  "color": {"field": "group", "type": "nominal", "scale": {"domain": ["blue", "red", "orange", "green"], "range": ["#4f89fa", "#c85b40", "#e48053", "#80c237"]}, "legend": null}
 }}
]
}
